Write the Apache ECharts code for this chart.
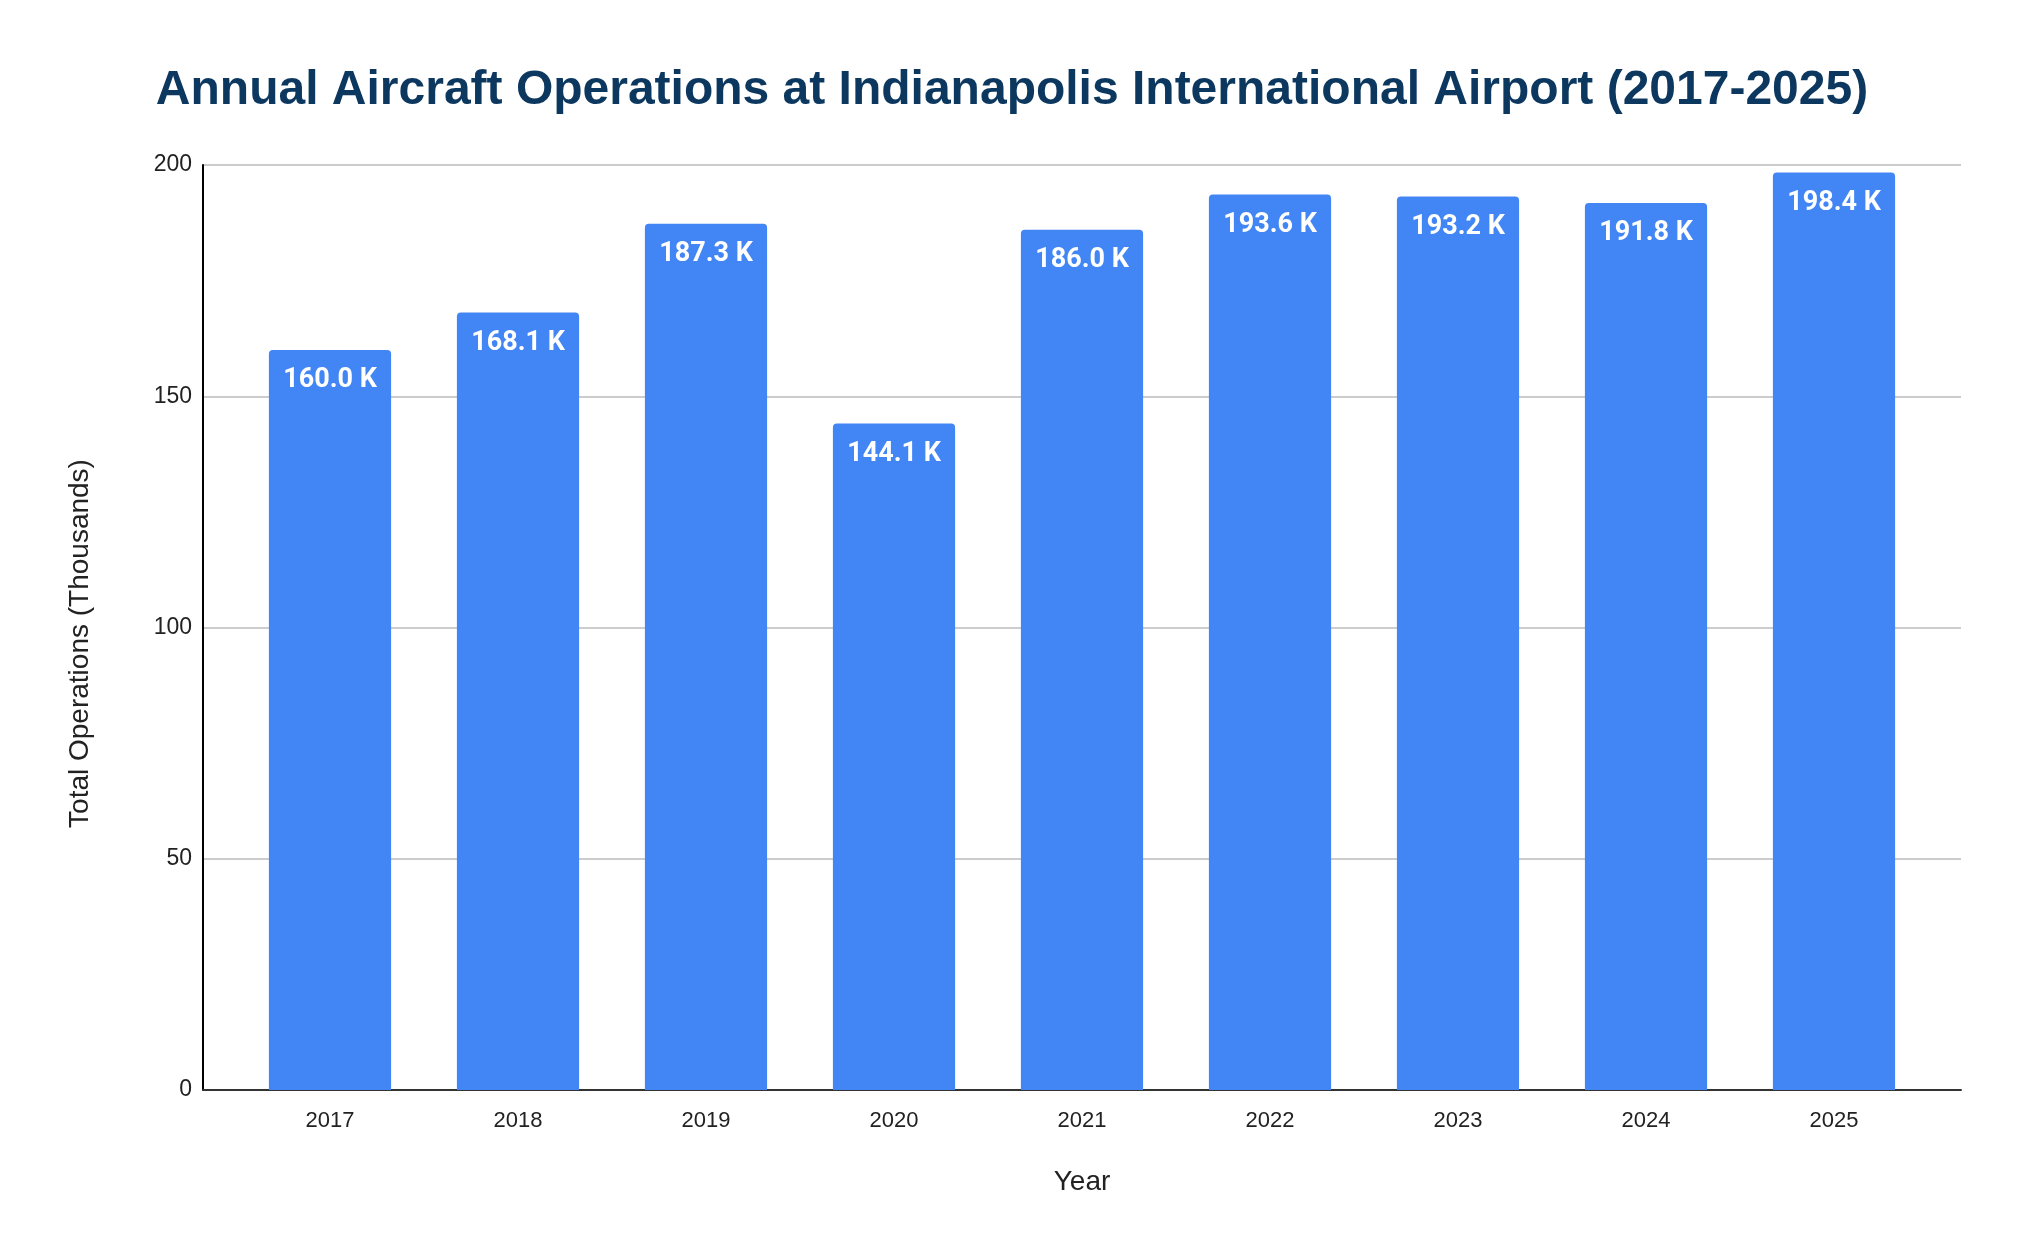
<!DOCTYPE html>
<html>
<head>
<meta charset="utf-8">
<script src="https://cdn.jsdelivr.net/npm/echarts@6/dist/echarts.min.js"></script>
<style>
  html, body { margin: 0; padding: 0; background: #fff; }
  #chart { width: 2024px; height: 1250px; }
</style>
</head>
<body>
<div id="chart"></div>
<script>
const years = ["2017", "2018", "2019", "2020", "2021", "2022", "2023", "2024", "2025"];
const operations = [160.0, 168.1, 187.3, 144.1, 186.0, 193.6, 193.2, 191.8, 198.4];
const yTicks = { min: 0, max: 200, interval: 50 };

const chart = echarts.init(document.getElementById("chart"));

// grid 0 carries the full-width frame (gridlines, axes), grid 1 the bars
// so the outer gaps match the gaps between bars
const option = {
  backgroundColor: "#fff",
  title: {
    text: "Annual Aircraft Operations at Indianapolis International Airport (2017-2025)",
    left: "center",
    top: 62,
    textStyle: {
      fontFamily: "Liberation Sans, Arial",
      fontWeight: "bold",
      fontSize: 48,
      color: "#0c375f",
    },
  },
  grid: [
    { left: 203, right: 63, top: 165, bottom: 160 },
    { left: 236, right: 96, top: 165, bottom: 160 },
  ],
  xAxis: [
    {
      type: "value",
      gridIndex: 0,
      min: 0,
      max: 1,
      axisLine: { show: true, lineStyle: { color: "#333", width: 2 } },
      axisTick: { show: false },
      axisLabel: { show: false },
      splitLine: { show: false },
    },
    {
      type: "category",
      gridIndex: 1,
      data: years,
      axisLine: { show: false },
      axisTick: { show: false },
      axisLabel: {
        margin: 20,
        fontFamily: "Liberation Sans, Arial",
        fontSize: 22,
        color: "#222",
      },
      name: "Year",
      nameLocation: "middle",
      nameGap: 78,
      nameTextStyle: {
        fontFamily: "Liberation Sans, Arial",
        fontSize: 28,
        color: "#222",
      },
    },
  ],
  yAxis: [
    {
      type: "value",
      gridIndex: 0,
      min: yTicks.min,
      max: yTicks.max,
      interval: yTicks.interval,
      axisLine: { show: true, lineStyle: { color: "#000", width: 2 } },
      axisTick: { show: false },
      axisLabel: {
        margin: 11,
        fontFamily: "Liberation Sans, Arial",
        fontSize: 23,
        color: "#222",
      },
      splitLine: { show: true, lineStyle: { color: "#cccccc", width: 2 } },
      name: "Total Operations (Thousands)",
      nameLocation: "middle",
      nameGap: 109,
      nameTextStyle: {
        fontFamily: "Liberation Sans, Arial",
        fontSize: 28,
        color: "#222",
        padding: [0, 32, 0, 0],
      },
    },
    {
      type: "value",
      gridIndex: 1,
      min: yTicks.min,
      max: yTicks.max,
      interval: yTicks.interval,
      show: false,
      splitLine: { show: false },
    },
  ],
  series: [
    {
      type: "bar",
      xAxisIndex: 1,
      yAxisIndex: 1,
      data: operations,
      barCategoryGap: "35%",
      itemStyle: { color: "#4285f4", borderRadius: [4, 4, 0, 0] },
      label: {
        show: true,
        position: "insideTop",
        distance: 17,
        formatter: (p) => p.value.toFixed(1) + " K",
        fontFamily: "Roboto",
        fontWeight: "bold",
        fontSize: 27,
        color: "#fff",
      },
    },
  ],
};

chart.setOption(option);
</script>
</body>
</html>
